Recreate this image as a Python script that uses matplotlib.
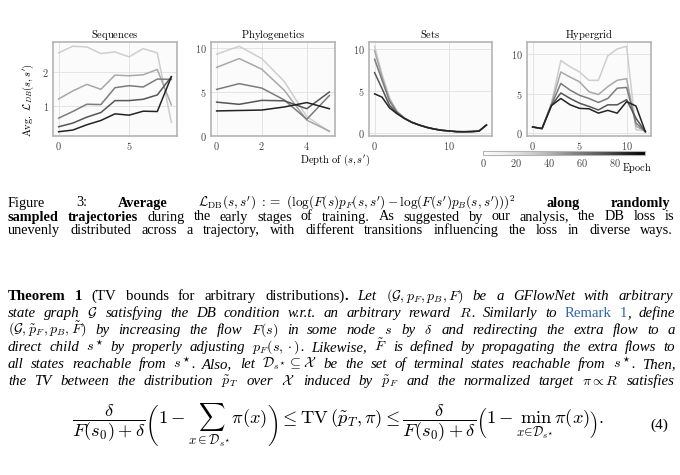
import matplotlib
matplotlib.use('Agg')
import matplotlib.pyplot as plt
import numpy as np
from matplotlib.transforms import IdentityTransform

W, H = 680, 475

# ---- data (rows = epoch snapshots, light -> dark)
seq_depth = list(range(9))
seq_loss = [
    [2.59, 2.79, 2.77, 2.57, 2.62, 2.47, 2.72, 2.59, 0.49],
    [1.20, 1.44, 1.64, 1.49, 1.92, 1.90, 1.93, 2.09, 1.02],
    [0.62, 0.82, 1.04, 1.03, 1.54, 1.60, 1.56, 1.80, 1.79],
    [0.36, 0.47, 0.65, 0.79, 1.15, 1.15, 1.19, 1.32, 1.87],
    [0.21, 0.26, 0.42, 0.55, 0.75, 0.71, 0.83, 0.82, 1.87],
]

phylo_depth = list(range(6))
phylo_loss = [
    [9.3, 10.2, 8.8, 6.2, 2.2, 0.5],
    [7.8, 8.8, 7.6, 5.2, 1.8, 0.55],
    [5.3, 5.95, 5.45, 4.1, 1.9, 4.6],
    [3.85, 3.6, 4.05, 4.0, 3.1, 5.0],
    [2.85, 2.9, 2.95, 3.3, 3.8, 3.1],
]

sets_depth = list(range(16))
sets_loss = [
    [10.35, 7.0, 4.2, 2.6, 1.8, 1.3, 0.96, 0.68, 0.48, 0.33, 0.24, 0.17, 0.15, 0.17, 0.22, 0.95],
    [9.8, 6.7, 4.0, 2.55, 1.78, 1.29, 0.95, 0.68, 0.48, 0.33, 0.24, 0.17, 0.15, 0.17, 0.22, 0.95],
    [8.8, 6.3, 3.8, 2.5, 1.76, 1.28, 0.95, 0.67, 0.47, 0.32, 0.24, 0.16, 0.15, 0.17, 0.22, 0.95],
    [7.2, 5.3, 3.3, 2.4, 1.74, 1.27, 0.94, 0.67, 0.47, 0.32, 0.24, 0.16, 0.15, 0.17, 0.22, 0.95],
    [4.67, 4.28, 3.0, 2.3, 1.73, 1.26, 0.94, 0.67, 0.47, 0.32, 0.24, 0.16, 0.15, 0.17, 0.22, 0.95],
]

grid_depth = list(range(13))
grid_loss = [
    [0.8, 0.6, 3.8, 9.2, 8.4, 7.75, 6.7, 6.7, 9.8, 10.66, 11.0, 0.45, 0.3],
    [0.8, 0.6, 3.7, 7.75, 7.1, 6.5, 5.25, 4.9, 5.9, 6.7, 6.9, 0.9, 0.25],
    [0.8, 0.6, 3.6, 6.3, 5.45, 4.8, 4.4, 3.9, 4.4, 5.7, 5.8, 1.3, 0.2],
    [0.8, 0.6, 3.5, 5.1, 4.4, 3.8, 3.4, 2.95, 3.6, 3.6, 4.25, 1.9, 0.2],
    [0.8, 0.6, 3.5, 4.4, 3.6, 3.15, 3.1, 2.55, 2.9, 2.55, 4.0, 3.45, 0.2],
]

epoch_max = 98
epoch_ticks = [0, 20, 40, 60, 80]

plt.rcParams['mathtext.fontset'] = 'cm'
plt.rcParams['font.family'] = 'Liberation Serif'

fig = plt.figure(figsize=(6.8, 4.75), dpi=100)

line_colors = plt.cm.Greys(np.linspace(0.3, 0.88, 5))

panels = [
    ('Sequences', seq_depth, seq_loss, [0, 5], [1, 2], 53, 177),
    ('Phylogenetics', phylo_depth, phylo_loss, [0, 2, 4], [0, 5, 10], 211, 335),
    ('Sets', sets_depth, sets_loss, [0, 10], [0, 5, 10], 369, 492),
    ('Hypergrid', grid_depth, grid_loss, [0, 5, 10], [0, 5, 10], 527, 651),
]

for title, xs, ys, xt, yt, l, r in panels:
    ax = fig.add_axes([l / W, 1 - 136 / H, (r - l) / W, 94 / H])
    ax.set_facecolor('#fbfbfb')
    for k, row in enumerate(ys):
        ax.plot(xs, row, color=line_colors[k], lw=1.1)
    ax.set_xticks(xt)
    ax.set_yticks(yt)
    ax.set_xticklabels(['$%d$' % v for v in xt])
    ax.set_yticklabels(['$%d$' % v for v in yt])
    ax.set_title(r'$\mathrm{%s}$' % title, fontsize=7.6, pad=3)
    ax.grid(color='#e4e4e4', lw=0.7)
    ax.set_axisbelow(True)
    for sp in ax.spines.values():
        sp.set_color('#b4b4b4')
        sp.set_linewidth(1.2)
    ax.tick_params(length=0, pad=3, labelsize=7.4, colors='#444444')

fig.text(28 / W, 1 - 100 / H, r"$\mathrm{Avg.}\ \mathcal{L}_{DB}(s,s')$",
         rotation=90, ha='center', va='center', fontsize=7.6)
fig.text(335 / W, 1 - 160 / H, r"$\mathrm{Depth\ of\ }(s,s')$",
         ha='center', va='center', fontsize=7.6)

cax = fig.add_axes([483 / W, 1 - 154.5 / H, 162 / W, 3.8 / H])
sm = plt.cm.ScalarMappable(cmap='Greys', norm=plt.Normalize(0, epoch_max))
cb = fig.colorbar(sm, cax=cax, orientation='horizontal')
cb.set_ticks(epoch_ticks)
cb.set_ticklabels(['$%d$' % v for v in epoch_ticks])
cb.ax.tick_params(length=0, labelsize=7.4, pad=2, colors='#444444')
cb.outline.set_edgecolor('#b4b4b4')
fig.text(637 / W, 1 - 168 / H, r'$\mathrm{Epoch}$', ha='center', va='center', fontsize=7.4)

# ---- caption and theorem text, justified line by line
renderer = fig.canvas.get_renderer()
styles = {
    'r': dict(),
    'b': dict(weight='bold'),
    'i': dict(style='italic'),
    'm': dict(),
    'link': dict(color='#3366aa'),
}
X0, X1 = 8, 668


def make_words(segs):
    words = [[]]
    for st, txt in segs:
        if st == 'm':
            words[-1].append((st, '$' + txt + '$'))
            continue
        parts = txt.split(' ')
        for k, p in enumerate(parts):
            if k > 0:
                words.append([])
            if p:
                words[-1].append((st, p))
    return [w for w in words if w]


def build(lines, size=10.0):
    out = []
    for segs, y in lines:
        row = []
        for w in make_words(segs):
            row.append([fig.text(0, 0, p, transform=IdentityTransform(), fontsize=size,
                                 ha='left', va='baseline', **styles[st]) for st, p in w])
        out.append((row, y))
    return out


def natural(built, size):
    space = 0.25 * size * 100 / 72
    tot = []
    for row, y in built:
        ws = sum(t.get_window_extent(renderer).width for w in row for t in w)
        tot.append(ws + space * (len(row) - 1))
    return tot


def justify(built, factor=1.0, mscale=1.0, target=648, size0=10.0):
    nat = natural(built, size0)
    size = size0 * target / max(nat) * factor
    for row, y in built:
        for w in row:
            for t in w:
                t.set_fontsize(size * (mscale if '$' in t.get_text() else 1.0))
    for row, y in built:
        widths = [[t.get_window_extent(renderer).width for t in w] for w in row]
        total = sum(sum(ww) for ww in widths)
        gap = (X1 - X0 - total) / max(len(row) - 1, 1)
        x = X0
        for w, ww in zip(row, widths):
            for t, bw in zip(w, ww):
                t.set_position((x, H - y))
                x += bw + 0.4
            x += gap


caption = [
    ([('r', 'Figure 3: '), ('b', 'Average '),
      ('m', r"\mathcal{L}_{\mathrm{DB}}(s,s')\ :=\ (\log(F(s)p_F(s,s')-\log(F(s')p_B(s,s')))^2"),
      ('b', ' along randomly')], 206.5),
    ([('b', 'sampled trajectories'),
      ('r', ' during the early stages of training. As suggested by our analysis, the DB loss is')], 220.5),
    ([('r', 'unevenly distributed across a trajectory, with different transitions influencing the loss in diverse ways.')], 234),
]

theorem = [
    ([('b', 'Theorem 1'), ('r', ' (TV bounds for arbitrary distributions)'), ('b', '.'),
      ('i', ' Let '), ('m', r'(\mathcal{G}, p_F, p_B, F)'), ('i', ' be a GFlowNet with arbitrary')], 300),
    ([('i', 'state graph '), ('m', r'\mathcal{G}'),
      ('i', ' satisfying the DB condition w.r.t. an arbitrary reward '), ('m', 'R'),
      ('i', '. Similarly to '), ('link', 'Remark 1'), ('i', ', define')], 317),
    ([('m', r'(\mathcal{G}, \tilde{p}_F, p_B, \tilde{F})'), ('i', ' by increasing the flow '),
      ('m', 'F(s)'), ('i', ' in some node '), ('m', 's'), ('i', ' by '), ('m', r'\delta'),
      ('i', ' and redirecting the extra flow to a')], 334),
    ([('i', 'direct child '), ('m', r's^\star'), ('i', ' by properly adjusting '),
      ('m', r'p_F(s,\cdot)'), ('i', '. Likewise, '), ('m', r'\tilde{F}'),
      ('i', ' is defined by propagating the extra flows to')], 351),
    ([('i', 'all states reachable from '), ('m', r's^\star'), ('i', '. Also, let '),
      ('m', r'\mathcal{D}_{s^\star} \subseteq \mathcal{X}'),
      ('i', ' be the set of terminal states reachable from '), ('m', r's^\star'), ('i', '. Then,')], 368),
    ([('i', 'the TV between the distribution '), ('m', r'\tilde{p}_T'), ('i', ' over '),
      ('m', r'\mathcal{X}'), ('i', ' induced by '), ('m', r'\tilde{p}_F'),
      ('i', ' and the normalized target '), ('m', r'\pi \propto R'), ('i', ' satisfies')], 385),
]

justify(build(caption), factor=0.9, mscale=0.93)
justify(build(theorem), factor=0.96, mscale=0.94)

eq = (r'$\dfrac{\delta}{F(s_0)+\delta}\left(1-\sum_{x\in\mathcal{D}_{s^\star}}\pi(x)\right)'
      r'\leq \mathrm{TV}\,(\tilde{p}_T,\pi) \leq '
      r'\dfrac{\delta}{F(s_0)+\delta}\left(1-\min_{x\in\mathcal{D}_{s^\star}}\pi(x)\right).$')
eq_txt = fig.text(338 / W, 1 - 425 / H, eq, ha='center', va='center', fontsize=10.5)
eq_w = eq_txt.get_window_extent(renderer).width
eq_txt.set_fontsize(10.5 * 535 / eq_w)
fig.text(668 / W, 1 - 425 / H, '(4)', ha='right', va='center', fontsize=11)

fig.savefig('out.png', dpi=100)
